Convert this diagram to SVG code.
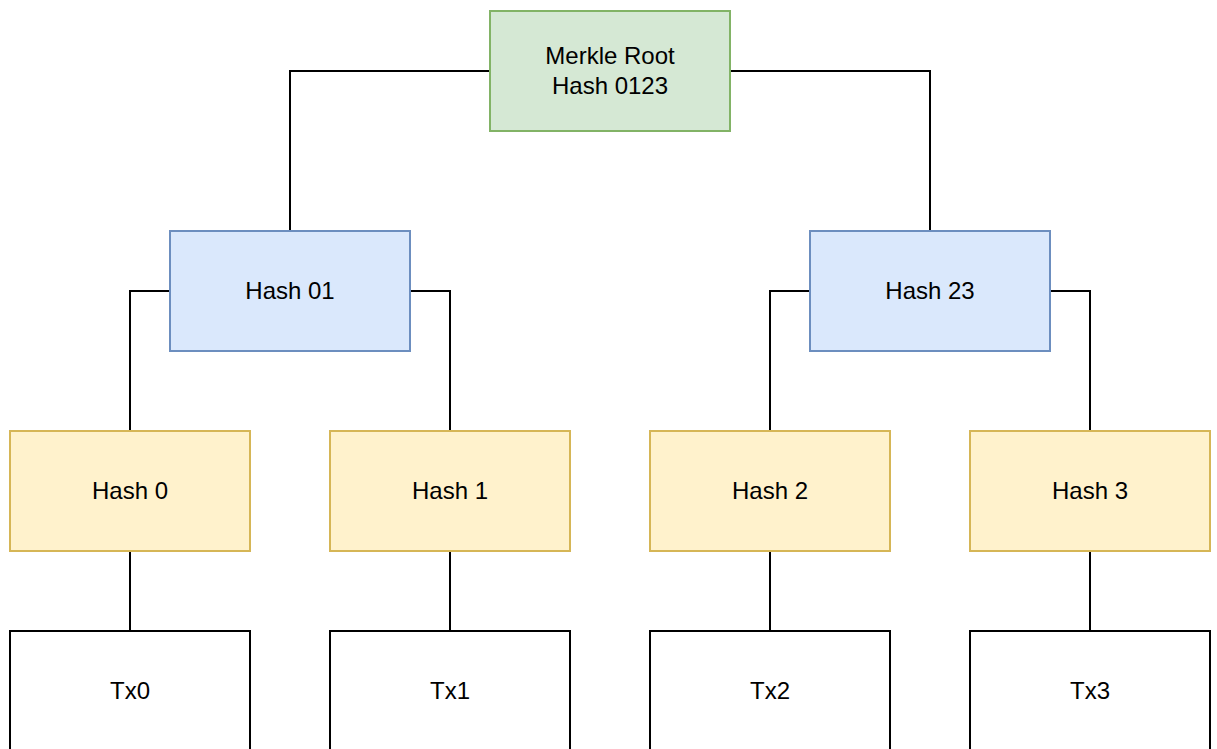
<svg xmlns="http://www.w3.org/2000/svg" width="1217" height="749" viewBox="0 0 1217 749">
  <style>
    .box { stroke-width: 2; }
    .root { fill: #d5e8d4; stroke: #82b366; }
    .mid { fill: #dae8fc; stroke: #6c8ebf; }
    .leaf { fill: #fff2cc; stroke: #d6b656; }
    .tx { fill: #ffffff; stroke: #000000; }
    .label { font-family: "Liberation Sans", Arial, Helvetica, sans-serif; font-size: 24px; fill: #000000; text-anchor: middle; }
    .edge { fill: none; stroke: #000000; stroke-width: 2; }
  </style>
  <rect width="1217" height="749" fill="#ffffff"/>

  <!-- connectors -->
  <g id="connectors">
    <path class="edge" d="M490 71 H290 V231"/>
    <path class="edge" d="M730 71 H930 V231"/>
    <path class="edge" d="M170 291 H130 V431"/>
    <path class="edge" d="M410 291 H450 V431"/>
    <path class="edge" d="M810 291 H770 V431"/>
    <path class="edge" d="M1050 291 H1090 V431"/>
    <path class="edge" d="M130 551 V631"/>
    <path class="edge" d="M450 551 V631"/>
    <path class="edge" d="M770 551 V631"/>
    <path class="edge" d="M1090 551 V631"/>
  </g>

  <!-- root -->
  <g id="merkle-root">
    <rect class="box root" x="490" y="11" width="240" height="120"/>
    <text class="label" x="610" y="64">Merkle Root</text>
    <text class="label" x="610" y="94">Hash 0123</text>
  </g>

  <!-- intermediate hashes -->
  <g id="hash01">
    <rect class="box mid" x="170" y="231" width="240" height="120"/>
    <text class="label" x="290" y="299">Hash 01</text>
  </g>
  <g id="hash23">
    <rect class="box mid" x="810" y="231" width="240" height="120"/>
    <text class="label" x="930" y="299">Hash 23</text>
  </g>

  <!-- leaf hashes -->
  <g id="hash0">
    <rect class="box leaf" x="10" y="431" width="240" height="120"/>
    <text class="label" x="130" y="499">Hash 0</text>
  </g>
  <g id="hash1">
    <rect class="box leaf" x="330" y="431" width="240" height="120"/>
    <text class="label" x="450" y="499">Hash 1</text>
  </g>
  <g id="hash2">
    <rect class="box leaf" x="650" y="431" width="240" height="120"/>
    <text class="label" x="770" y="499">Hash 2</text>
  </g>
  <g id="hash3">
    <rect class="box leaf" x="970" y="431" width="240" height="120"/>
    <text class="label" x="1090" y="499">Hash 3</text>
  </g>

  <!-- transactions -->
  <g id="tx0">
    <rect class="box tx" x="10" y="631" width="240" height="120"/>
    <text class="label" x="130" y="699">Tx0</text>
  </g>
  <g id="tx1">
    <rect class="box tx" x="330" y="631" width="240" height="120"/>
    <text class="label" x="450" y="699">Tx1</text>
  </g>
  <g id="tx2">
    <rect class="box tx" x="650" y="631" width="240" height="120"/>
    <text class="label" x="770" y="699">Tx2</text>
  </g>
  <g id="tx3">
    <rect class="box tx" x="970" y="631" width="240" height="120"/>
    <text class="label" x="1090" y="699">Tx3</text>
  </g>
</svg>
